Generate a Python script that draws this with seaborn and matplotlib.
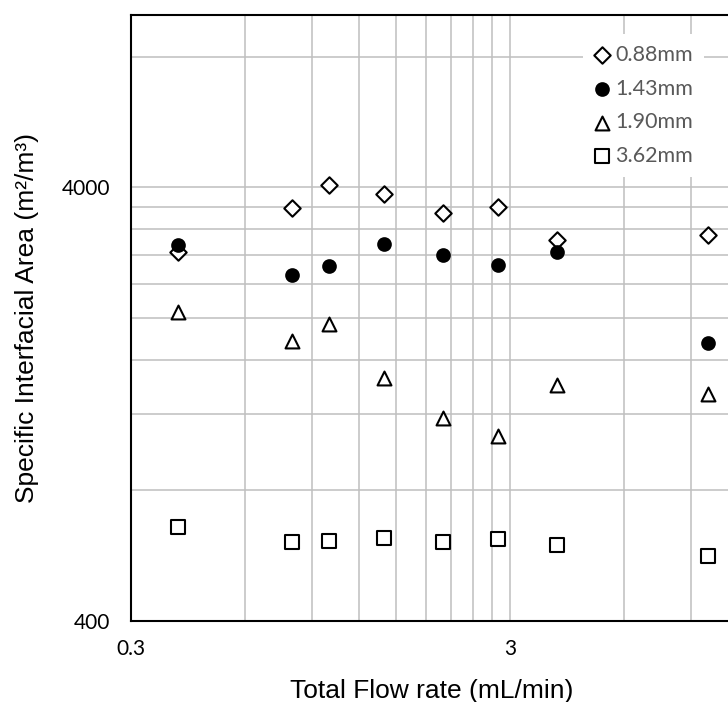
import numpy as np
import pandas as pd
import matplotlib
matplotlib.use("Agg")
import matplotlib.pyplot as plt
import seaborn as sns
from matplotlib.ticker import FixedLocator, NullFormatter

# ---- data ----
flow_rate = [0.4, 0.8, 1.0, 1.4, 2.0, 2.8, 4.0, 10.0]
area_088 = [2838, 3592, 4043, 3869, 3494, 3603, 3019, 3100]
area_143 = [2952, 2517, 2631, 2967, 2789, 2654, 2834, 1751]
area_190 = [2064, 1770, 1941, 1450, 1173, 1067, 1399, 1334]
area_362 = [660, 607, 612, 622, 607, 619, 599, 566]
series_labels = ["0.88mm", "1.43mm", "1.90mm", "3.62mm"]

x_tick_values = [0.3, 3]
x_tick_labels = ["0.3", "3"]
y_tick_values = [400, 4000]
y_tick_labels = ["400", "4000"]

x_label = "Total Flow rate (mL/min)"
y_label = "Specific Interfacial Area (m\u00b2/m\u00b3)"

# ---- long-form table ----
df = pd.DataFrame({
    "flow": flow_rate * 4,
    "area": area_088 + area_143 + area_190 + area_362,
    "series": [lab for lab in series_labels for _ in flow_rate],
})

sns.set_theme(style="white")
plt.rcParams["font.family"] = ["Lato", "DejaVu Sans"]
label_font = ["Liberation Sans", "DejaVu Sans"]

W, H = 728, 702
fig = plt.figure(figsize=(W / 100, H / 100), dpi=100)
left_px, right_px, top_px, bottom_px = 131, 728, 15, 621
ax = fig.add_axes([left_px / W, (H - bottom_px) / H,
                   (right_px - left_px) / W, (bottom_px - top_px) / H])

styles = {
    "0.88mm": dict(marker="D", color="white", s=70),
    "1.43mm": dict(marker="o", color="black", s=82),
    "1.90mm": dict(marker="^", color="white", s=100),
    "3.62mm": dict(marker="s", color="white", s=96),
}

for lab in series_labels:
    st = styles[lab]
    sns.scatterplot(data=df[df["series"] == lab], x="flow", y="area", ax=ax,
                    marker=st["marker"], s=st["s"], color=st["color"],
                    edgecolor="black", linewidth=1.5, label=lab, zorder=3)

ax.set_xscale("log")
ax.set_yscale("log")
ax.set_xlim(0.3, 11.3)
ax.set_ylim(400, 9990)

# gridlines (Excel-style linear minor steps within each log decade)
x_minor = [0.3 * k for k in range(2, 10)] + [3 * k for k in range(2, 4)]
y_minor = [400 * k for k in range(2, 10)] + [4000 * k for k in range(2, 3)]
ax.xaxis.set_major_locator(FixedLocator(x_tick_values))
ax.yaxis.set_major_locator(FixedLocator(y_tick_values))
ax.xaxis.set_minor_locator(FixedLocator(x_minor))
ax.yaxis.set_minor_locator(FixedLocator(y_minor))
ax.xaxis.set_minor_formatter(NullFormatter())
ax.yaxis.set_minor_formatter(NullFormatter())
ax.set_xticklabels(x_tick_labels)
ax.set_yticklabels(y_tick_labels)

ax.grid(True, which="both", color="#BFBFBF", linewidth=1.1, zorder=0)
ax.set_axisbelow(True)

ax.tick_params(axis="both", which="major", direction="out", length=5, width=1.4,
               color="black", labelsize=15, labelcolor="black")
ax.tick_params(axis="x", which="major", pad=8)
ax.tick_params(axis="y", which="major", pad=10)
ax.tick_params(axis="both", which="minor", length=0)

for side in ["left", "bottom", "top"]:
    ax.spines[side].set_visible(True)
    ax.spines[side].set_color("black")
    ax.spines[side].set_linewidth(1.5)
ax.spines["right"].set_visible(False)

ax.set_xlabel(x_label, fontsize=19, color="black", family=label_font)
ax.set_ylabel(y_label, fontsize=19, color="black", family=label_font)
ax.xaxis.set_label_coords((432 - left_px) / (right_px - left_px),
                          (bottom_px - 679) / (bottom_px - top_px))
ax.yaxis.set_label_coords((39 - left_px) / (right_px - left_px), 0.5)

handles, labels = ax.get_legend_handles_labels()
leg = ax.legend(handles, labels, loc="upper left",
                bbox_to_anchor=(583 / W, 1 - 34 / H), bbox_transform=fig.transFigure,
                frameon=True, facecolor="white", edgecolor="none", framealpha=1,
                fancybox=False, borderpad=0.5, borderaxespad=0, handlelength=0.8,
                handletextpad=0.2, labelspacing=0.64,
                prop={"family": ["Lato", "DejaVu Sans"], "size": 15.5})
for t in leg.get_texts():
    t.set_color("#595959")
leg.set_zorder(5)

fig.savefig("out.png", dpi=100)
